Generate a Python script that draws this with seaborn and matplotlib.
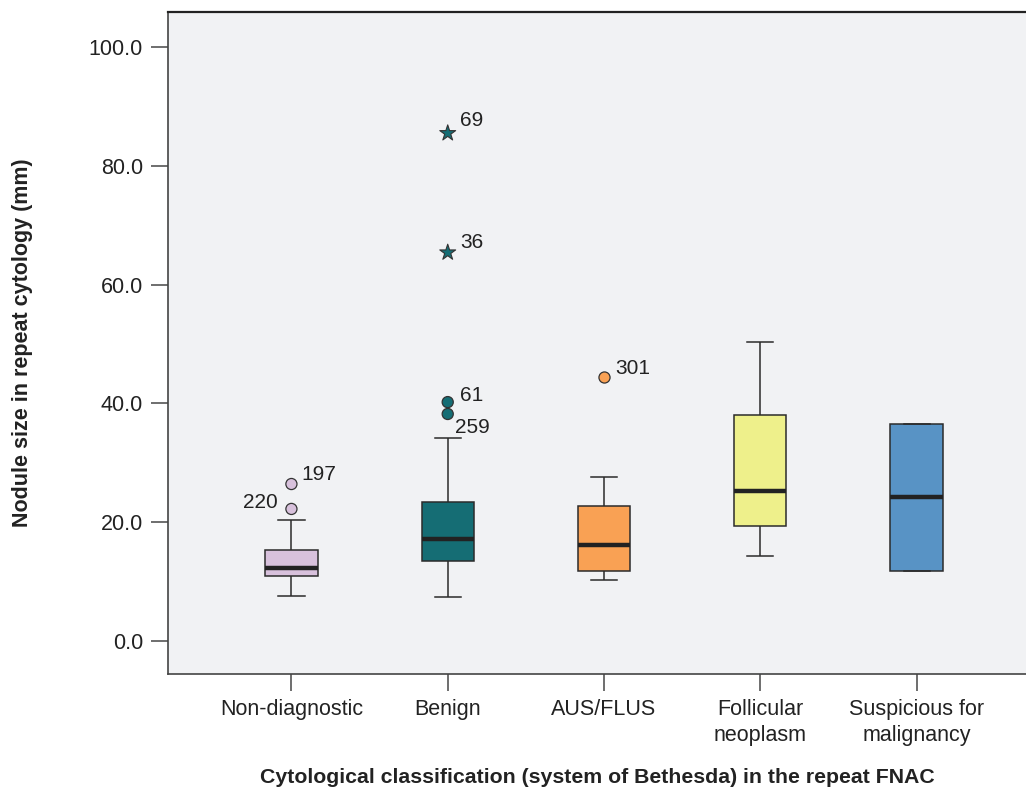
import matplotlib
matplotlib.use("Agg")
import matplotlib.pyplot as plt
import matplotlib.ticker as mticker
import pandas as pd
import seaborn as sns

# Categories and box summary (low whisker, Q1, median, Q3, high whisker) in mm
categories = ["Non-diagnostic", "Benign", "AUS/FLUS", "Follicular\nneoplasm", "Suspicious for\nmalignancy"]
whisker_low = [7.6, 7.3, 10.2, 14.2, 11.7]
q1 = [10.9, 13.5, 11.7, 19.4, 11.8]
median = [12.2, 17.2, 16.2, 25.3, 24.2]
q3 = [15.3, 23.3, 22.7, 38.0, 36.5]
whisker_high = [20.3, 34.2, 27.5, 50.3, 36.5]
colors = ["#d8c1dc", "#156d74", "#f9a154", "#eef08b", "#5893c5"]

# Outliers (circles) and extremes (stars) with case numbers
out_cat = ["Non-diagnostic", "Non-diagnostic", "Benign", "Benign", "AUS/FLUS"]
out_val = [26.4, 22.2, 40.2, 38.2, 44.4]
out_id = ["197", "220", "61", "259", "301"]
ext_cat = ["Benign", "Benign"]
ext_val = [85.5, 65.4]
ext_id = ["69", "36"]

# long table: five summary values per group reproduce the box exactly
rows = []
for i, c in enumerate(categories):
    for v in [whisker_low[i], q1[i], median[i], q3[i], whisker_high[i]]:
        rows.append({"cat": c, "size": v})
df = pd.DataFrame(rows)
pal = dict(zip(categories, colors))

plt.rcParams["font.family"] = ["Liberation Sans", "DejaVu Sans"]
fig = plt.figure(figsize=(10.26, 7.89), dpi=100)
ax = fig.add_axes([0.1637, 0.1458, 0.8363, 0.8396])
ax.set_facecolor("#f1f2f4")

sns.boxplot(data=df, x="cat", y="size", hue="cat", order=categories, palette=pal,
            legend=False, whis=(0, 100), showfliers=False, width=0.335, saturation=1,
            linecolor="#2b2b2b", linewidth=1.1,
            medianprops={"color": "#222222", "linewidth": 3.2}, ax=ax)

sns.stripplot(x=out_cat, y=out_val, hue=out_cat, order=categories, palette=pal,
              legend=False, jitter=False, marker="o", size=8,
              edgecolor="#333333", linewidth=0.9, ax=ax)
sns.stripplot(x=ext_cat, y=ext_val, hue=ext_cat, order=categories, palette=pal,
              legend=False, jitter=False, marker="*", size=12,
              edgecolor="#333333", linewidth=0.8, ax=ax)

# case number labels
offsets = {"197": (7, 7, "left"), "220": (-10, 5, "right"), "61": (9, 5, "left"),
           "259": (5, -10, "left"), "301": (8, 6, "left"), "69": (9, 9, "left"),
           "36": (9, 7, "left")}
for c, v, t in zip(out_cat + ext_cat, out_val + ext_val, out_id + ext_id):
    dx, dy, ha = offsets[t]
    ax.annotate(t, (categories.index(c), v), xytext=(dx, dy), textcoords="offset points",
                ha=ha, va="center", fontsize=15, color="#222222")

ax.set_xlim(-0.79, 4.70)
ax.set_ylim(-5.6, 106.0)
ax.set_yticks([0, 20, 40, 60, 80, 100])
ax.yaxis.set_major_formatter(mticker.FormatStrFormatter("%.1f"))
ax.tick_params(axis="both", direction="out", length=12, width=1.2, color="#555555",
               labelsize=15.5, labelcolor="#222222", pad=6)
for lab in ax.get_xticklabels():
    lab.set_linespacing(1.3)
for s in ["left", "bottom"]:
    ax.spines[s].set_color("#444444")
    ax.spines[s].set_linewidth(1.2)
ax.spines["top"].set_color("#222222")
ax.spines["top"].set_linewidth(1.6)
ax.spines["right"].set_visible(False)

ax.set_xlabel("Cytological classification (system of Bethesda) in the repeat FNAC",
              fontsize=15.3, fontweight="bold", color="#222222", labelpad=16)
ax.set_ylabel("Nodule size in repeat cytology (mm)", fontsize=15.5, fontweight="bold",
              color="#222222", labelpad=40)

fig.savefig("out.png", dpi=100)
